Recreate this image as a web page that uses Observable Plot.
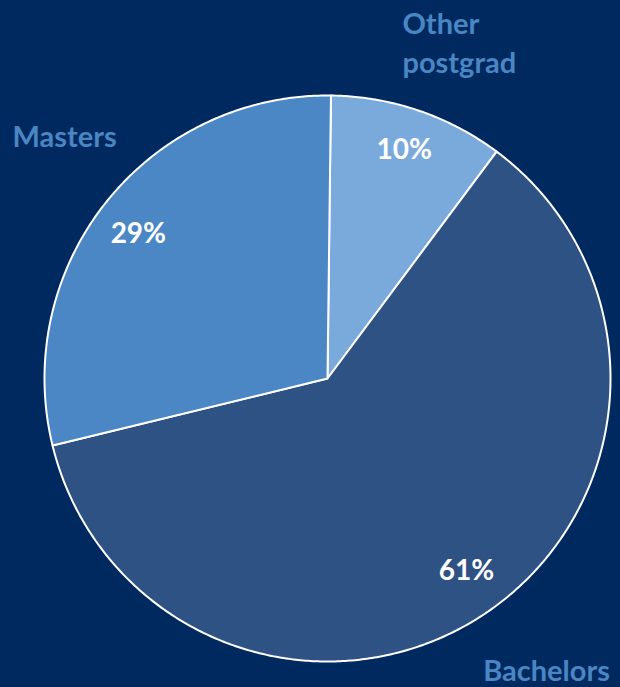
<!DOCTYPE html>
<html>
<head>
<meta charset="utf-8">
<script src="https://cdn.jsdelivr.net/npm/d3@7"></script>
<script src="https://cdn.jsdelivr.net/npm/@observablehq/plot@0.6"></script>
<style>
  html, body { margin: 0; padding: 0; background: #002a5f; overflow: hidden; }
  #chart svg { display: block; }
</style>
</head>
<body>
<div id="chart"></div>
<script>
// ---- data ----
const categories = ["Other postgrad", "Bachelors", "Masters"];
const shares = [10, 61, 29];           // percent
const percentLabels = ["10%", "61%", "29%"];
const sliceColors = ["#7aaadb", "#2f5284", "#4b87c5"];

// ---- layout / style ----
const bg = "#002a5f";
const labelColor = "#4a86c4";
const startOffset = 0.7 * Math.PI / 180;  // slight rotation seen in the reference
const fontFamily = "Lato, 'Open Sans', sans-serif";
const R = 283; // pixel radius (matches scale ranges below)

// pie angles from d3.pie (clockwise from 12 o'clock)
const pie = d3.pie().sort(null).value(d => d.value)
  .startAngle(startOffset).endAngle(2 * Math.PI + startOffset);
const arcs = pie(categories.map((c, i) => ({name: c, value: shares[i], pct: percentLabels[i]})));

// polygon outline for each slice, in unit coordinates (radius 1)
const pts = [];
for (const a of arcs) {
  const name = a.data.name;
  pts.push({name, x: 0, y: 0});
  const steps = Math.max(2, Math.ceil((a.endAngle - a.startAngle) / (Math.PI / 360)));
  for (let s = 0; s <= steps; s++) {
    const t = a.startAngle + (a.endAngle - a.startAngle) * s / steps;
    pts.push({name, x: Math.sin(t), y: Math.cos(t)});
  }
  pts.push({name, x: 0, y: 0});
}

const mid = a => (a.startAngle + a.endAngle) / 2;

// pixel nudges (layout only) for labels
const innerNudge = {"Other postgrad": [0, -2], "Bachelors": [7, -7], "Masters": [-2, 4]};
const outerNudge = {
  "Other postgrad": {dx: -43, dy: 11, anchor: "start", text: "Other\npostgrad"},
  "Bachelors": {dx: 16, dy: -17, anchor: "middle", text: "Bachelors"},
  "Masters": {dx: 25, dy: -15, anchor: "middle", text: "Masters"}
};

const inner = arcs.map(a => {
  const [nx, ny] = innerNudge[a.data.name];
  return {label: a.data.pct,
    x: 0.845 * Math.sin(mid(a)) + nx / R,
    y: 0.845 * Math.cos(mid(a)) - ny / R};
});
const outerK = 1.3;
const outer = arcs.map(a => ({name: a.data.name, x: outerK * Math.sin(mid(a)), y: outerK * Math.cos(mid(a))}));

const outerMarks = outer.map(o => Plot.text([o], {
  x: "x", y: "y", text: () => outerNudge[o.name].text,
  dx: outerNudge[o.name].dx, dy: outerNudge[o.name].dy,
  textAnchor: outerNudge[o.name].anchor, lineAnchor: "middle", lineHeight: 1.36,
  fill: labelColor, fontSize: 29, fontWeight: "bold", fontFamily
}));

const chart = Plot.plot({
  width: 620,
  height: 687,
  style: {background: bg, overflow: "visible"},
  x: {domain: [-1, 1], range: [327 - R, 327 + R], axis: null},
  y: {domain: [-1, 1], range: [378 + R, 378 - R], axis: null},
  color: {domain: categories, range: sliceColors},
  marks: [
    Plot.line(pts, {x: "x", y: "y", z: "name", fill: "name", stroke: "white", strokeWidth: 2, strokeLinejoin: "round", curve: "linear"}),
    Plot.text(inner, {x: "x", y: "y", text: "label", fill: "white", fontSize: 28, fontWeight: "bold", fontFamily, textAnchor: "middle"}),
    ...outerMarks
  ]
});
document.getElementById("chart").appendChild(chart);
</script>
</body>
</html>
